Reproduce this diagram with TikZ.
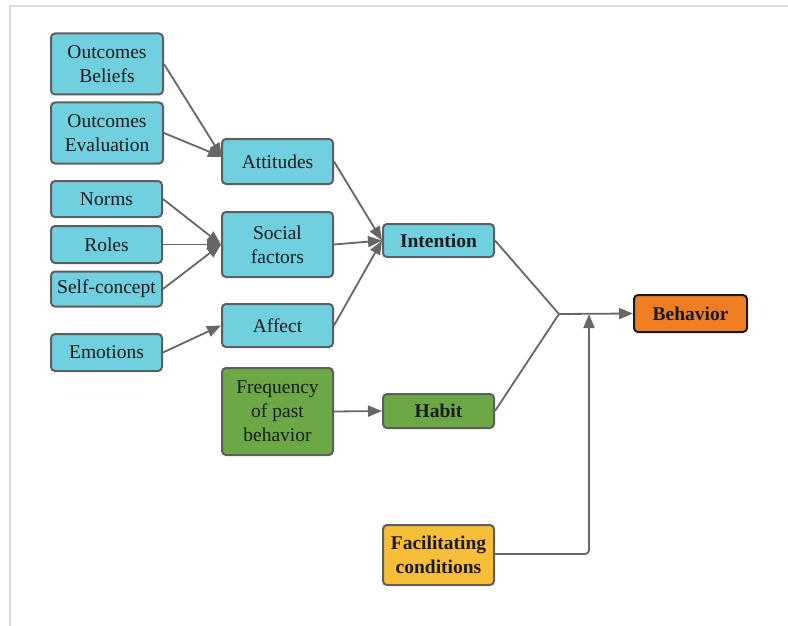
\documentclass[tikz,border=0pt]{standalone}
\usepackage{fontspec}
\setmainfont{LiberationSerif}[Extension=.ttf, UprightFont=*-Regular, BoldFont=*-Bold, ItalicFont=*-Italic, BoldItalicFont=*-BoldItalic]
\usetikzlibrary{arrows.meta}
\definecolor{boxcyan}{HTML}{70D0DF}
\definecolor{boxgreen}{HTML}{6CA845}
\definecolor{boxorange}{HTML}{EF7E23}
\definecolor{boxyellow}{HTML}{F7BE3A}
\definecolor{edgegray}{HTML}{5E5E5E}
\definecolor{linkgray}{HTML}{666666}
\definecolor{framegray}{HTML}{D9D9D9}
\definecolor{inkdark}{HTML}{1A1A1A}
\tikzset{
  box/.style={draw=edgegray, line width=2pt, rounded corners=4pt, align=center,
    inner sep=0pt, font=\fontsize{19.5}{24}\selectfont, text=inkdark},
  cyanbox/.style={box, fill=boxcyan},
  greenbox/.style={box, fill=boxgreen},
  keybox/.style={font=\fontsize{19.5}{24}\selectfont\bfseries},
  sz/.style 2 args={minimum width=#1pt, minimum height=#2pt},
  link/.style={draw=linkgray, line width=1.8pt},
  arr/.style={link, -{Triangle[length=14pt,width=11pt]}},
}
\begin{document}
\begin{tikzpicture}[x=1pt, y=-1pt]
  \useasboundingbox (0,0) rectangle (788,626);
  % frame lines along the top and left edges
  \draw[framegray, line width=2pt] (9.5,626) -- (9.5,6) -- (788,6);

  % input factors
  \node[cyanbox, sz={112}{61}] (ob) at (107,64) {Outcomes\\Beliefs};
  \node[cyanbox, sz={112}{61}] (oe) at (107,133) {Outcomes\\Evaluation};
  \node[cyanbox, sz={111}{36}] (norms) at (106.5,199) {Norms};
  \node[cyanbox, sz={111}{37}] (roles) at (106.5,244.5) {Roles};
  \node[cyanbox, sz={111}{35}] (self) at (106.5,289) {Self-concept};
  \node[cyanbox, sz={111}{37}] (emo) at (106.5,352.5) {Emotions};

  % intermediate constructs
  \node[cyanbox, sz={111}{45}] (att) at (277.5,161.5) {Attitudes};
  \node[cyanbox, sz={111}{65}] (soc) at (277.5,244.5) {Social\\factors};
  \node[cyanbox, sz={111}{43}] (aff) at (277.5,325.5) {Affect};
  \node[greenbox, sz={111}{87}] (freq) at (277.5,411.5) {Frequency\\of past\\behavior};

  % intention, habit, conditions and behavior
  \node[cyanbox, keybox, sz={111}{33}] (int) at (438.5,240.5) {Intention};
  \node[greenbox, keybox, sz={111}{34}] (hab) at (438.5,411) {Habit};
  \node[box, keybox, fill=boxyellow, sz={111}{60}] (fac) at (438.5,555) {Facilitating\\conditions};
  \node[box, keybox, fill=boxorange, draw=inkdark, sz={113}{37}] (beh) at (690.5,313.5) {Behavior};

  % connection points
  \coordinate (attin) at (222,157);
  \coordinate (j) at (559,314);
  \coordinate (tap) at (589,314);
  \coordinate (corner) at (589,554);

  % connectors
  \draw[arr] (ob.east) -- (attin);
  \draw[arr] (oe.east) -- (attin);
  \draw[arr] (norms.east) -- (soc.west);
  \draw[arr] (roles.east) -- (soc.west);
  \draw[arr] (self.east) -- (soc.west);
  \draw[arr] (emo.east) -- (aff.west);
  \draw[arr] (att.east) -- (int.west);
  \draw[arr] (soc.east) -- (int.west);
  \draw[arr] (aff.east) -- (int.west);
  \draw[arr] (freq.east) -- (hab.west);
  \draw[link] (int.east) -- (j);
  \draw[link] (hab.east) -- (j);
  \draw[arr] (j) -- (beh.west);
  \draw[arr, rounded corners=4pt] (fac.east |- corner) -- (corner) -- (tap);
\end{tikzpicture}
\end{document}
